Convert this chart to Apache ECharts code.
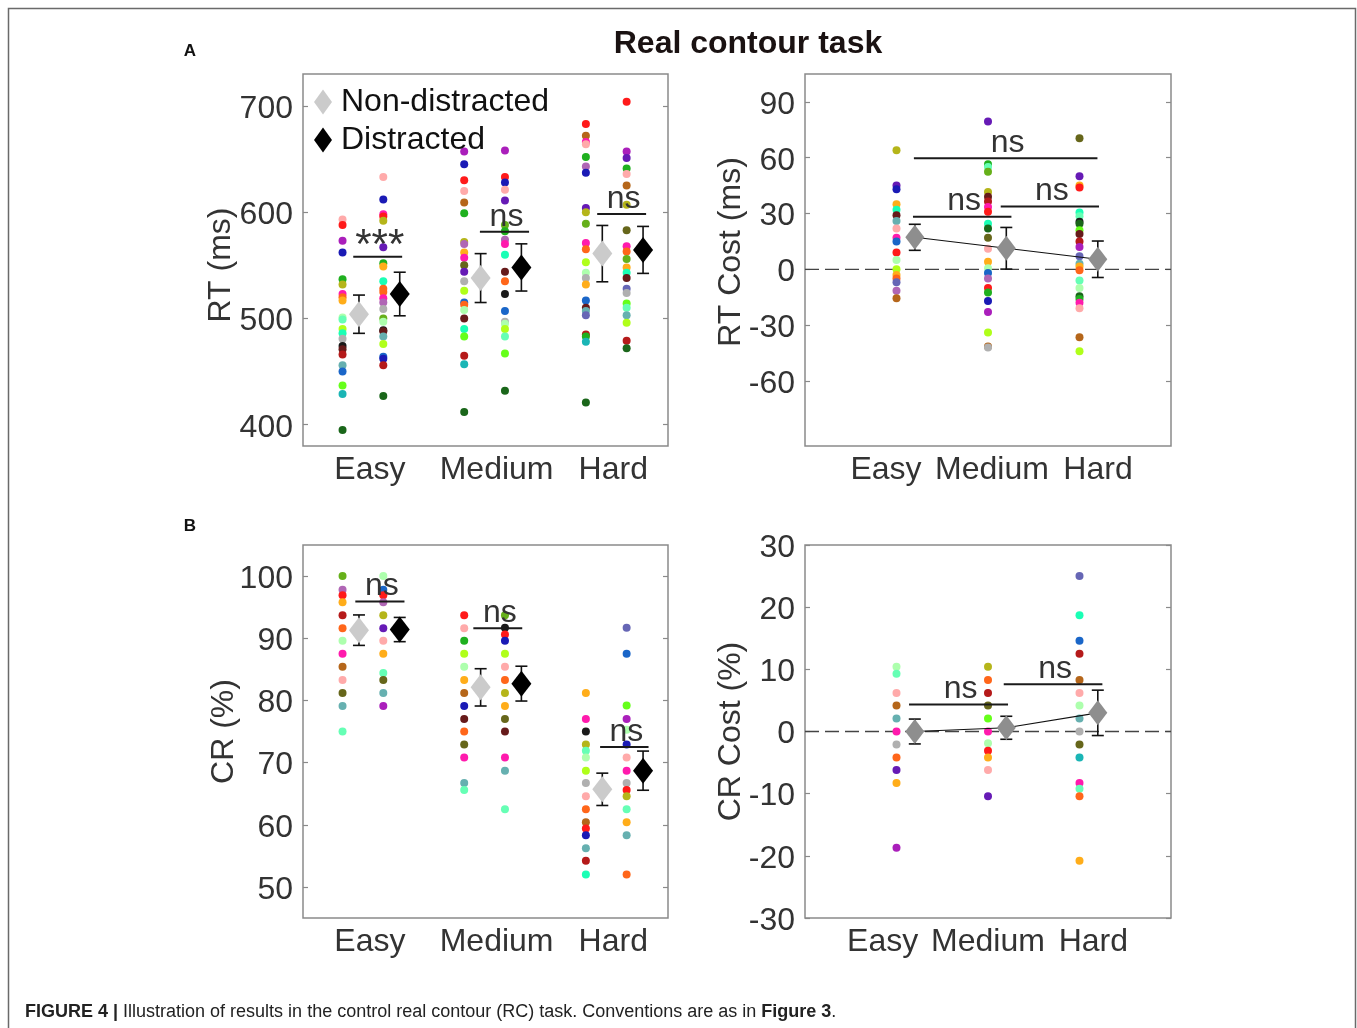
<!DOCTYPE html>
<html><head><meta charset="utf-8">
<script src="https://cdn.jsdelivr.net/npm/echarts@6/dist/echarts.min.js"></script>
<style>html,body{margin:0;padding:0;background:#fff}#c{width:1357px;height:1028px}</style>
</head><body><div id="c"></div>
<script>
// ---------- data ----------
const categories = ['Easy', 'Medium', 'Hard'];
const rtTicks = [400, 500, 600, 700];
const rtCostTicks = [-60, -30, 0, 30, 60, 90];
const crTicks = [50, 60, 70, 80, 90, 100];

// RT (ms), per subject
const rtEasyND = [593, 588, 573, 562, 537, 532, 523, 520, 517, 501, 499, 490, 486, 481, 474, 471, 466, 456, 450, 437, 429, 395];
const rtEasyD  = [633, 612, 598, 596, 592, 567, 552, 549, 535, 528, 525, 519, 515, 509, 500, 497, 489, 488, 483, 476, 464, 462, 456, 427];
const rtMedND  = [657, 645, 630, 620, 609, 599, 572, 570, 562, 557, 550, 544, 535, 526, 515, 513, 508, 500, 490, 483, 465, 457, 412];
const rtMedD   = [658, 633, 628, 621, 611, 588, 582, 574, 570, 560, 544, 535, 523, 507, 497, 495, 490, 483, 467, 432];
const rtHardND = [683, 672, 666, 664, 652, 643, 637, 604, 600, 589, 571, 565, 553, 543, 538, 532, 517, 510, 507, 503, 485, 483, 478, 421];
const rtHardD  = [704, 657, 651, 641, 636, 625, 607, 583, 568, 563, 556, 548, 543, 538, 528, 524, 514, 510, 503, 496, 479, 472];
const rtNDMean = [504, 538, 561];
const rtNDErr  = [18, 23, 26.5];
const rtDMean  = [523, 548, 564.5];
const rtDErr   = [20.5, 22.2, 22.1];

// RT cost (ms)
const rtCostEasy = [64, 45, 43, 35, 32, 29, 26, 22, 17, 15, 9, 5, 0, -3, -5, -7, -11.5, -15.5];
const rtCostMed  = [79.5, 56.5, 55, 52.5, 41.5, 39, 36.5, 33.5, 31, 24.5, 22, 17, 11, 4, 0.5, -2, -5, -10, -12.5, -17, -23, -34, -41.5, -42];
const rtCostHard = [70.5, 50, 45, 44, 30.5, 28.5, 25.5, 24.5, 21, 19, 15, 12, 7, 3, 1.5, -0.5, -6, -10, -14.5, -16, -18, -21, -36.5, -44];
const rtCostMean = [17.2, 11.3, 5.4];
const rtCostErr  = [7, 11.2, 9.8];

// CR (%)
const crEasyND = [100, 97.8, 96.9, 95.8, 93.7, 91.6, 89.6, 87.5, 85.4, 83.3, 81.2, 79.1, 75];
const crEasyD  = [100, 97.8, 96.9, 95.8, 93.7, 91.6, 89.6, 87.5, 84.4, 83.3, 81.2, 79.1];
const crMedND  = [93.7, 91.6, 89.6, 87.5, 85.4, 83.3, 81.2, 79.1, 77, 75, 72.9, 70.8, 66.7, 65.6];
const crMedD   = [93.7, 91.7, 90.6, 89.6, 87.5, 85.4, 83.3, 81.2, 79.1, 77, 75, 70.8, 68.7, 62.5];
const crHardND = [81.2, 77, 75, 72.9, 71.9, 70.8, 68.7, 66.7, 64.6, 62.5, 60.4, 59.4, 58.3, 56.2, 54.2, 52];
const crHardD  = [91.7, 87.5, 79.2, 77, 75.3, 72.9, 70.8, 68.7, 66.7, 65.6, 64.6, 62.5, 60.4, 58.3, 52];
const crNDMean = [91.3, 82.1, 65.7];
const crNDErr  = [2.45, 3, 2.6];
const crDMean  = [91.4, 82.7, 68.7];
const crDErr   = [1.95, 2.8, 3.15];

// CR cost (%)
const crCostEasy = [10.4, 9.3, 6.2, 4.2, 2.1, 0, -2.1, -4.2, -6.2, -8.3, -18.7];
const crCostMed  = [10.4, 8.3, 6.2, 4.2, 2.1, 0, -1.9, -3.1, -4.2, -6.2, -10.4];
const crCostHard = [25, 18.7, 14.6, 12.5, 8.3, 6.2, 4.2, 2.1, 0, -2.1, -4.2, -8.3, -9.2, -10.4, -20.8];
const crCostMean = [0, 0.6, 3.0];
const crCostErr  = [2, 1.85, 3.65];

// significance annotations: [x1, x2, y]
const rtSig = [[0.863, 1.265, 558], [1.904, 2.308, 581.6], [2.868, 3.27, 598.2]];
const rtSigText = ['***', 'ns', 'ns'];
const rtCostSig = [[1.19, 3.196, 59.7], [1.18, 2.256, 28.3], [2.139, 3.213, 33.7]];
const rtCostSigText = ['ns', 'ns', 'ns'];
const crSig = [[0.88, 1.284, 95.9], [1.85, 2.252, 91.6], [2.892, 3.29, 72.5]];
const crSigText = ['ns', 'ns', 'ns'];
const crCostSig = [[1.137, 2.219, 4.35], [2.172, 3.25, 7.6]];
const crCostSigText = ['ns', 'ns'];

// ---------- styles (subject colours) ----------
const C = {
  pink:'#ffaaaa', red:'#ff1a1a', purple:'#aa1fbb', navy:'#1a1ab5', green:'#1fb01f', olive:'#b5b51a',
  magenta:'#ff1aad', orangered:'#ff661a', orange:'#ffad1a', palegreen:'#adffad', mint:'#66ffb5',
  lime:'#b0ff1a', aqua:'#1affb5', gray:'#b0b0b0', black:'#1a1a1a', maroon:'#661a1a', darkred:'#b51a1a',
  cadet:'#66b0b0', steel:'#1a66c8', limegreen:'#66ff1a', cyan:'#1ab5b5', darkgreen:'#1a661a',
  brown:'#b5661a', slate:'#6666b5', violet:'#661ab5', darkolive:'#66661a', olivegreen:'#66b01a', lilac:'#b066b5'
};
const rtEasyNDCol = ['pink','red','purple','navy','green','olive','magenta','orangered','orange','palegreen','mint','lime','aqua','gray','black','maroon','darkred','cadet','steel','limegreen','cyan','darkgreen'];
const rtEasyDCol  = ['pink','navy','magenta','red','olive','violet','green','orange','aqua','orangered','orangered','magenta','lilac','gray','olivegreen','palegreen','black','maroon','cadet','lime','steel','navy','darkred','darkgreen'];
const rtMedNDCol  = ['purple','navy','red','pink','brown','green','olive','lilac','orange','magenta','darkolive','violet','gray','lime','steel','orangered','palegreen','maroon','aqua','limegreen','darkred','cyan','darkgreen'];
const rtMedDCol   = ['purple','red','navy','pink','violet','olivegreen','green','lilac','magenta','aqua','maroon','orangered','black','steel','gray','palegreen','lime','mint','limegreen','darkgreen'];
const rtHardNDCol = ['red','brown','magenta','pink','green','lilac','navy','violet','olive','olivegreen','magenta','orangered','lime','palegreen','gray','orange','steel','maroon','cadet','slate','darkred','green','cyan','darkgreen'];
const rtHardDCol  = ['red','purple','violet','green','pink','brown','olive','darkolive','magenta','orangered','olivegreen','orange','aqua','maroon','slate','gray','limegreen','mint','cadet','lime','darkred','darkgreen'];
const rtCostEasyCol = ['olive','violet','navy','orange','aqua','maroon','cadet','pink','magenta','steel','red','palegreen','lime','orange','orangered','slate','lilac','brown'];
const rtCostMedCol  = ['violet','green','mint','olivegreen','olive','maroon','darkred','magenta','red','aqua','darkgreen','darkolive','pink','orange','palegreen','steel','lilac','red','green','navy','purple','lime','brown','gray'];
const rtCostHardCol = ['darkolive','violet','orange','red','aqua','mint','black','darkgreen','limegreen','maroon','darkred','purple','slate','cadet','orange','orangered','mint','palegreen','darkgreen','green','magenta','pink','brown','lime'];
const crEasyNDCol = ['olivegreen','lilac','red','orange','darkred','orangered','palegreen','magenta','brown','pink','darkolive','cadet','mint'];
const crEasyDCol  = ['palegreen','steel','red','lilac','olive','violet','pink','orange','mint','darkolive','cadet','purple'];
const crMedNDCol  = ['red','pink','green','lime','palegreen','orange','brown','navy','maroon','orangered','darkolive','magenta','cadet','mint'];
const crMedDCol   = ['olivegreen','black','red','navy','lime','pink','orangered','olive','orange','darkolive','maroon','magenta','cadet','mint'];
const crHardNDCol = ['orange','magenta','black','olive','mint','palegreen','lime','gray','pink','orangered','brown','red','navy','cadet','darkred','aqua'];
const crHardDCol  = ['slate','steel','limegreen','purple','palegreen','navy','pink','magenta','gray','red','olive','mint','orange','cadet','orangered'];
const crCostEasyCol = ['palegreen','mint','pink','brown','cadet','magenta','gray','orangered','violet','orange','purple'];
const crCostMedCol  = ['olive','orangered','darkred','darkolive','limegreen','magenta','palegreen','red','orange','pink','violet'];
const crCostHardCol = ['slate','aqua','steel','darkred','brown','pink','palegreen','cadet','gray','darkolive','cyan','magenta','mint','orangered','orange'];

// ---------- chart ----------
const FONT = '"Liberation Sans", Arial, Helvetica, sans-serif';
const TXT = '#333333';
const BOX = '#8a8a8a';
const OFF = { ndDots: -0.225, ndMean: -0.09, dDots: 0.11, dMean: 0.245, costMean: 0.2 };

const grids = [
  { left: 303, top: 74, width: 365, height: 372 },
  { left: 805, top: 74, width: 366, height: 372 },
  { left: 303, top: 545, width: 365, height: 373 },
  { left: 805, top: 545, width: 366, height: 373 },
  { left: 833, top: 74, width: 318, height: 372 },
  { left: 830, top: 545, width: 316, height: 373 }
].map(g => Object.assign({ show: g.left === 303 || g.left === 805, borderColor: BOX, borderWidth: 1.5, backgroundColor: 'transparent' }, g));

function valX(gi, min, max, labels) {
  return {
    type: 'value', gridIndex: gi, min: min, max: max,
    axisLine: { show: false }, axisTick: { show: false }, splitLine: { show: false },
    axisLabel: labels ? {
      show: true, customValues: [1, 2, 3], fontSize: 32, color: TXT, fontFamily: FONT, margin: 8,
      formatter: v => { const n = categories[Math.round(v) - 1] || ''; return n === 'Medium' ? '{m|' + n + '}' : n; },
      rich: { m: { fontSize: 32, color: TXT, fontFamily: FONT, padding: [0, 0, 0, 10] } }
    } : { show: false }
  };
}
function catX(gi) {
  return {
    type: 'category', gridIndex: gi, data: categories, boundaryGap: true,
    axisLine: { show: false }, axisTick: { show: false }, splitLine: { show: false },
    axisLabel: { fontSize: 32, color: TXT, fontFamily: FONT, margin: 8, interval: 0 }
  };
}
function valY(gi, min, max, ticks, name, gap, pad, right) {
  const y = {
    type: 'value', gridIndex: gi, min: min, max: max, position: right ? 'right' : 'left',
    axisLine: { show: false }, splitLine: { show: false },
    axisTick: { show: true, inside: true, length: 5, customValues: ticks, lineStyle: { color: BOX, width: 1.2 } },
    axisLabel: right ? { show: false } : {
      show: true, customValues: ticks, fontSize: 32, color: TXT, fontFamily: FONT, margin: 10,
      formatter: v => '{a|' + v + '}',
      rich: { a: { fontSize: 32, color: TXT, fontFamily: FONT, padding: [6, 0, 0, 0] } }
    }
  };
  if (!right) {
    y.name = name; y.nameLocation = 'middle'; y.nameGap = gap; y.nameMoveOverlap = false;
    y.nameTextStyle = { fontSize: 32, color: TXT, fontFamily: FONT, padding: pad };
  }
  return y;
}

const xAxis = [
  valX(0, 0.45, 3.45, true), valX(1, 0, 4, false), valX(2, 0.45, 3.45, true), valX(3, 0, 4, false),
  catX(4), catX(5)
];
const yAxis = [
  valY(0, 380, 730, rtTicks, 'RT (ms)', 66, [0, 10, 0, 0]),
  valY(1, -95, 105, rtCostTicks, 'RT Cost (ms)', 58, [0, 0, 0, 16]),
  valY(2, 45, 105, crTicks, 'CR (%)', 63, [0, 0, 0, 0]),
  valY(3, -30, 30, null, 'CR Cost (%)', 58, [0, 0, 0, 0]),
  valY(0, 380, 730, rtTicks, '', 0, 0, true),
  valY(1, -95, 105, rtCostTicks, '', 0, 0, true),
  valY(2, 45, 105, crTicks, '', 0, 0, true),
  valY(3, -30, 30, null, '', 0, 0, true),
  { type: 'value', gridIndex: 4, show: false },
  { type: 'value', gridIndex: 5, show: false }
];
// CR cost axis uses regular interval
yAxis[3].interval = 10; delete yAxis[3].axisTick.customValues; delete yAxis[3].axisLabel.customValues;
yAxis[7].interval = 10; delete yAxis[7].axisTick.customValues;

const series = [];
function dots(ai, x, vals, cols) {
  series.push({
    type: 'scatter', xAxisIndex: ai, yAxisIndex: ai, symbolSize: 8, z: 3, silent: true,
    data: vals.map((v, i) => ({ value: [x, v], itemStyle: { color: C[cols[i]], opacity: 1 } }))
  });
}
function means(ai, name, off, m, e, color, size) {
  series.push({
    type: 'custom', xAxisIndex: ai, yAxisIndex: ai, z: 4, silent: true,
    data: m.map((v, i) => [i + 1 + off, v - e[i], v + e[i]]),
    encode: { x: 0, y: [1, 2] },
    renderItem: (p, api) => {
      const x = api.value(0);
      const lo = api.coord([x, api.value(1)]), hi = api.coord([x, api.value(2)]);
      const w = 6, st = { stroke: '#111', lineWidth: 1.6 };
      return { type: 'group', children: [
        { type: 'line', shape: { x1: lo[0], y1: lo[1], x2: hi[0], y2: hi[1] }, style: st },
        { type: 'line', shape: { x1: lo[0] - w, y1: lo[1], x2: lo[0] + w, y2: lo[1] }, style: st },
        { type: 'line', shape: { x1: hi[0] - w, y1: hi[1], x2: hi[0] + w, y2: hi[1] }, style: st }
      ]};
    }
  });
  series.push({
    type: 'scatter', name: name, xAxisIndex: ai, yAxisIndex: ai, symbol: 'diamond', symbolSize: size, z: 6, silent: true,
    itemStyle: { color: color, opacity: 1 },
    data: m.map((v, i) => [i + 1 + off, v])
  });
}
function sig(ai, rows, texts) {
  series.push({
    type: 'custom', xAxisIndex: ai, yAxisIndex: ai, z: 7, silent: true,
    data: rows, encode: { x: [0, 1], y: 2 },
    renderItem: (p, api) => {
      const a = api.coord([api.value(0), api.value(2)]), b = api.coord([api.value(1), api.value(2)]);
      const t = texts[p.dataIndex], star = t === '***';
      return { type: 'group', children: [
        { type: 'line', shape: { x1: a[0], y1: a[1], x2: b[0], y2: b[1] }, style: { stroke: '#1a1a1a', lineWidth: 2 } },
        { type: 'text', x: (a[0] + b[0]) / 2 + 2, y: a[1] - (star ? 10 : 15),
          style: { text: t, fill: TXT, fontSize: star ? 42 : 32, fontFamily: FONT, align: 'center', verticalAlign: 'middle' } }
      ]};
    }
  });
}
function zeroLine(ai) {
  series.push({
    type: 'line', xAxisIndex: ai, yAxisIndex: ai, z: 1, silent: true, symbol: 'none',
    lineStyle: { color: '#444', width: 1.3, type: [14, 6] }, data: [[0, 0], [4, 0]]
  });
}
function meanLine(ai, m) {
  series.push({
    type: 'line', xAxisIndex: ai, yAxisIndex: ai, z: 5, silent: true, symbol: 'none',
    lineStyle: { color: '#111', width: 1.1 }, data: m.map((v, i) => [i + 1 + OFF.costMean, v])
  });
}

// Panel A left: RT
[[rtEasyND, rtEasyNDCol, rtEasyD, rtEasyDCol], [rtMedND, rtMedNDCol, rtMedD, rtMedDCol], [rtHardND, rtHardNDCol, rtHardD, rtHardDCol]]
  .forEach((g, i) => { dots(0, i + 1 + OFF.ndDots, g[0], g[1]); dots(0, i + 1 + OFF.dDots, g[2], g[3]); });
means(0, 'Non-distracted', OFF.ndMean, rtNDMean, rtNDErr, '#cbcbcb', [20, 26]);
means(0, 'Distracted', OFF.dMean, rtDMean, rtDErr, '#000000', [20, 26]);
sig(0, rtSig, rtSigText);

// Panel A right: RT cost
zeroLine(1);
[[rtCostEasy, rtCostEasyCol], [rtCostMed, rtCostMedCol], [rtCostHard, rtCostHardCol]].forEach((g, i) => dots(1, i + 1, g[0], g[1]));
meanLine(1, rtCostMean);
means(1, 'RT cost', OFF.costMean, rtCostMean, rtCostErr, '#8e8e8e', [19, 25]);
sig(1, rtCostSig, rtCostSigText);

// Panel B left: CR
[[crEasyND, crEasyNDCol, crEasyD, crEasyDCol], [crMedND, crMedNDCol, crMedD, crMedDCol], [crHardND, crHardNDCol, crHardD, crHardDCol]]
  .forEach((g, i) => { dots(2, i + 1 + OFF.ndDots, g[0], g[1]); dots(2, i + 1 + OFF.dDots, g[2], g[3]); });
means(2, 'Non-distracted', OFF.ndMean, crNDMean, crNDErr, '#cbcbcb', [20, 26]);
means(2, 'Distracted', OFF.dMean, crDMean, crDErr, '#000000', [20, 26]);
sig(2, crSig, crSigText);

// Panel B right: CR cost
zeroLine(3);
[[crCostEasy, crCostEasyCol], [crCostMed, crCostMedCol], [crCostHard, crCostHardCol]].forEach((g, i) => dots(3, i + 1, g[0], g[1]));
meanLine(3, crCostMean);
means(3, 'CR cost', OFF.costMean, crCostMean, crCostErr, '#8e8e8e', [19, 25]);
sig(3, crCostSig, crCostSigText);

const option = {
  animation: false,
  backgroundColor: '#ffffff',
  grid: grids,
  xAxis: xAxis,
  yAxis: yAxis,
  legend: {
    data: ['Non-distracted', 'Distracted'], orient: 'vertical', left: 309, top: 81,
    itemWidth: 18, itemHeight: 25, itemGap: 6, selectedMode: false,
    textStyle: { fontSize: 32, color: '#111', fontFamily: FONT, padding: [0, 0, 0, 4] }
  },
  graphic: [
    { type: 'rect', shape: { x: 8.5, y: 8.5, width: 1347, height: 1100 }, style: { fill: 'none', stroke: '#6a6a6a', lineWidth: 1.5 }, silent: true, z: -1 },
    { type: 'text', x: 748, y: 44, style: { text: 'Real contour task', fontSize: 32, fontWeight: 'bold', fill: '#1a1212', fontFamily: FONT, align: 'center', verticalAlign: 'middle' } },
    { type: 'text', x: 190, y: 51, style: { text: 'A', fontSize: 17, fontWeight: 'bold', fill: '#111', fontFamily: FONT, align: 'center', verticalAlign: 'middle' } },
    { type: 'text', x: 190, y: 526, style: { text: 'B', fontSize: 17, fontWeight: 'bold', fill: '#111', fontFamily: FONT, align: 'center', verticalAlign: 'middle' } },
    { type: 'text', x: 25, y: 1012, style: {
        text: '{b|FIGURE 4 |} Illustration of results in the control real contour (RC) task. Conventions are as in {b|Figure 3}.',
        fontSize: 18, fill: '#222', fontFamily: FONT, verticalAlign: 'middle',
        rich: { b: { fontWeight: 'bold', fontSize: 18, fill: '#222', fontFamily: FONT } }
      } }
  ],
  series: series
};
const chart = echarts.init(document.getElementById('c'), null, { renderer: 'canvas' });
chart.setOption(option);
</script>
</body></html>
